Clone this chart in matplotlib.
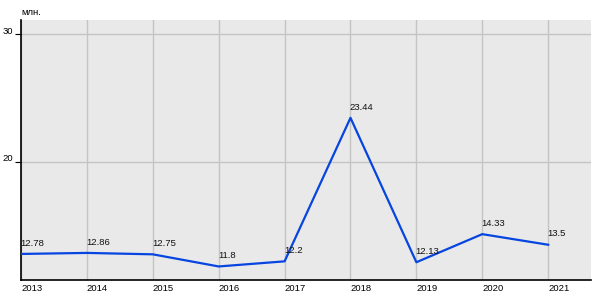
import matplotlib
matplotlib.use("Agg")
import matplotlib.pyplot as plt
import matplotlib.transforms as mtransforms

years = [2013, 2014, 2015, 2016, 2017, 2018, 2019, 2020, 2021]
values = [12.78, 12.86, 12.75, 11.8, 12.2, 23.44, 12.13, 14.33, 13.5]
value_labels = ["12.78", "12.86", "12.75", "11.8", "12.2", "23.44", "12.13", "14.33", "13.5"]
y_ticks = [20, 30]
unit_label = "млн."

plt.rcParams['font.family'] = ['Liberation Sans', 'DejaVu Sans']
FS = 6.8

fig = plt.figure(figsize=(6, 3), dpi=100)
ax = fig.add_axes([0.035, 0.0667, 0.95, 0.8666])
ax.set_facecolor('#e9e9e9')

ax.plot(years, values, color='#0645e0', lw=1.6, zorder=3)
for x, y, t in zip(years, values, value_labels):
    ax.annotate(t, (x, y), xytext=(-0.5, 4.5), textcoords='offset points',
                ha='left', va='bottom', fontsize=FS, color='#111111', zorder=4)

ax.set_xlim(2013, 2021.65)
ax.set_ylim(10.74, 31.1)
ax.set_xticks(years)
ax.set_xticklabels([str(y) for y in years], ha='left', fontsize=FS)
ax.set_yticks(y_ticks)
ax.set_yticklabels([str(v) for v in y_ticks], fontsize=FS, va='center')
ax.tick_params(axis='x', length=0, pad=3)
ax.tick_params(axis='y', length=4, width=0.8, pad=2, direction='out')
shift = mtransforms.ScaledTranslation(0, 2 / 72, fig.dpi_scale_trans)
for lbl in ax.get_yticklabels():
    lbl.set_transform(lbl.get_transform() + shift)
ax.grid(True, color='#c4c4c4', lw=1.0, zorder=0)
ax.set_axisbelow(True)
for s in ['top', 'right']:
    ax.spines[s].set_visible(False)
for s in ['left', 'bottom']:
    ax.spines[s].set_color('black')
    ax.spines[s].set_linewidth(1.2)

fig.text(0.035, 0.957, unit_label, fontsize=FS, ha='left', va='center')

fig.savefig('out.png', dpi=100)
